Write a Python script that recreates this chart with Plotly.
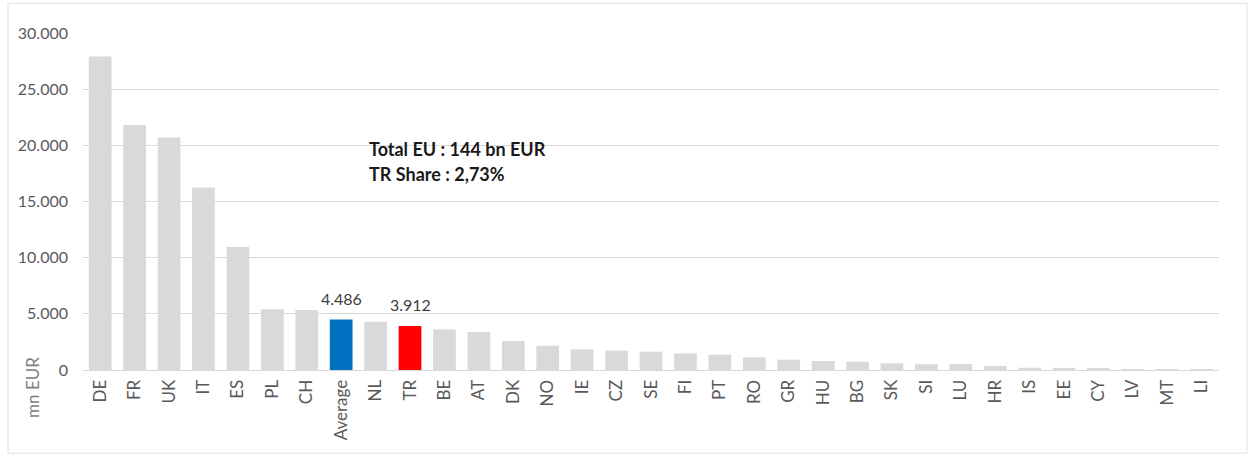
import plotly.graph_objects as go

# Countries ordered by volume, with the EU average inserted
countries = ["DE", "FR", "UK", "IT", "ES", "PL", "CH", "Average", "NL", "TR",
             "BE", "AT", "DK", "NO", "IE", "CZ", "SE", "FI", "PT", "RO",
             "GR", "HU", "BG", "SK", "SI", "LU", "HR", "IS", "EE", "CY",
             "LV", "MT", "LI"]
values_mn_eur = [27900, 21800, 20700, 16250, 10950, 5400, 5350, 4486, 4300, 3912,
                 3620, 3380, 2580, 2160, 1840, 1720, 1630, 1480, 1360, 1130,
                 920, 800, 740, 600, 510, 530, 360, 200, 190, 170,
                 40, 20, 10]
y_ticks = [0, 5000, 10000, 15000, 20000, 25000, 30000]
highlight = {"Average": "#0070c0", "TR": "#ff0000"}

GREY = "#d9d9d9"
colors = [highlight.get(c, GREY) for c in countries]


def fmt_thousands(v):
    return f"{v:,d}".replace(",", ".")


fig = go.Figure(go.Bar(
    x=countries,
    y=values_mn_eur,
    marker=dict(color=colors, line=dict(width=0)),
    width=0.66,
    hoverinfo="x+y",
))

# value labels above the highlighted bars
value_labels = [
    dict(x=c, y=v, xref="x", yref="y", text=fmt_thousands(v),
         showarrow=False, yanchor="bottom", yshift=10,
         font=dict(family="Lato", size=16, color="#404040"))
    for c, v in zip(countries, values_mn_eur) if c in highlight
]

fig.update_layout(
    width=1250, height=457,
    margin=dict(l=83, r=31, t=33, b=87),
    paper_bgcolor="white",
    plot_bgcolor="white",
    separators=",.",
    showlegend=False,
    font=dict(family="Lato", color="#595959"),
    xaxis=dict(
        tickangle=-90,
        tickfont=dict(family="Lato", size=17, color="#595959"),
        showgrid=False,
        showline=True, linecolor=GREY, linewidth=1,
        ticks="",
        ticklabelstandoff=2,
    ),
    yaxis=dict(
        range=[0, 30000],
        tickvals=y_ticks,
        tickformat=",d",
        tickfont=dict(family="Lato", size=16, color="#595959"),
        showgrid=True, gridcolor=GREY, gridwidth=1,
        zeroline=False,
        showline=False,
        ticks="",
        ticklabelstandoff=14,
    ),
    annotations=value_labels + [
        dict(text="<b>Total EU : 144 bn EUR</b>",
             xref="paper", yref="paper", x=0.25, y=0.657,
             xanchor="left", yanchor="middle", align="left",
             showarrow=False,
             font=dict(family="Lato", size=18, color="#1a1a1a")),
        dict(text="<b>TR Share : 2,73%</b>",
             xref="paper", yref="paper", x=0.25, y=0.583,
             xanchor="left", yanchor="middle", align="left",
             showarrow=False,
             font=dict(family="Lato", size=18, color="#1a1a1a")),
        dict(text="mn EUR", textangle=-90,
             xref="paper", yref="paper", x=-0.044, y=-0.053,
             xanchor="center", yanchor="middle", showarrow=False,
             font=dict(family="Lato", size=17, color="#7f7f7f")),
    ],
    shapes=[
        dict(type="rect", xref="paper", yref="paper",
             x0=-0.066, x1=1.0246, y0=-0.247, y1=1.088,
             line=dict(color="#e0e0e0", width=1), fillcolor="rgba(0,0,0,0)",
             layer="below"),
    ],
)

fig.write_html("out.html")
